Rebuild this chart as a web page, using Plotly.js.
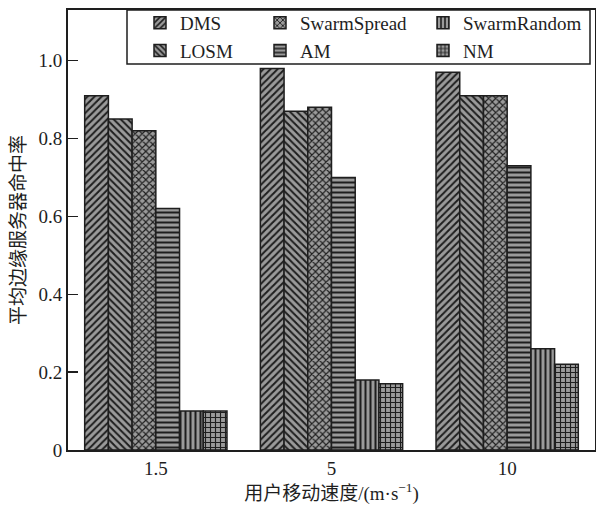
<!DOCTYPE html>
<html>
<head>
<meta charset="utf-8">
<script src="https://cdn.plot.ly/plotly-3.0.1.min.js"></script>
<style>html,body{margin:0;padding:0;background:#fff;}#chart{width:596px;height:505px;}</style>
</head>
<body>
<div id="chart"></div>
<script>
const categories = ['1.5', '5', '10'];
const seriesNames = ['DMS', 'LOSM', 'SwarmSpread', 'AM', 'SwarmRandom', 'NM'];
const DMS = [0.91, 0.98, 0.97];
const LOSM = [0.85, 0.87, 0.91];
const SwarmSpread = [0.82, 0.88, 0.91];
const AM = [0.62, 0.70, 0.73];
const SwarmRandom = [0.10, 0.18, 0.26];
const NM = [0.10, 0.17, 0.22];
const yTickVals = [0, 0.2, 0.4, 0.6, 0.8, 1.0];
const yTickText = ['0', '0.2', '0.4', '0.6', '0.8', '1.0'];
const xTitle = '用户移动速度/(m·s<sup>−1</sup>)';
const yTitle = '平均边缘服务器命中率';

const seriesValues = [DMS, LOSM, SwarmSpread, AM, SwarmRandom, NM];
const shapes = ['/', '\\', 'x', '-', '|', '+'];
const legendIds = ['legend', 'legend', 'legend2', 'legend2', 'legend3', 'legend3'];
const serif = 'Liberation Serif, serif';
const cjk = 'Liberation Serif, Noto Sans CJK SC, serif';
const dark = '#1e1e1e';
const fill = '#9a9a9a';

const traces = seriesNames.map((name, i) => ({
  type: 'bar',
  name: name,
  x: categories,
  y: seriesValues[i],
  legend: legendIds[i],
  marker: {
    color: fill,
    line: {color: dark, width: 1.5},
    pattern: {shape: shapes[i], fgcolor: dark, bgcolor: fill, fillmode: 'replace', size: 5, solidity: 0.4}
  },
  hoverinfo: 'skip'
}));

const legendBase = {
  orientation: 'v',
  yanchor: 'top',
  y: (450 - 4) / 440,
  xanchor: 'left',
  bgcolor: 'rgba(0,0,0,0)',
  borderwidth: 0,
  font: {family: serif, size: 19, color: dark},
  tracegroupgap: 0,
  itemwidth: 30
};

const layout = {
  width: 596,
  height: 505,
  margin: {l: 68, r: 1, t: 10, b: 55},
  paper_bgcolor: '#fff',
  plot_bgcolor: '#fff',
  font: {family: serif},
  barmode: 'group',
  bargap: 0.19,
  bargroupgap: 0,
  showlegend: true,
  legend: Object.assign({}, legendBase, {x: (140 - 68) / 527}),
  legend2: Object.assign({}, legendBase, {x: (260 - 68) / 527}),
  legend3: Object.assign({}, legendBase, {x: (423 - 68) / 527}),
  xaxis: {
    type: 'category',
    range: [-0.5, 2.5],
    showline: true,
    mirror: true,
    linecolor: dark,
    linewidth: 2,
    ticks: '',
    showgrid: false,
    zeroline: false,
    tickfont: {family: serif, size: 19, color: dark},
    title: {text: xTitle, font: {family: cjk, size: 19, color: dark}, standoff: 12}
  },
  yaxis: {
    range: [0, 1.13],
    tickvals: yTickVals,
    ticktext: yTickText,
    ticks: 'inside',
    ticklen: 10,
    tickwidth: 1.5,
    tickcolor: dark,
    showline: true,
    mirror: true,
    linecolor: dark,
    linewidth: 2,
    showgrid: false,
    zeroline: false,
    tickfont: {family: serif, size: 19, color: dark},
    title: {text: yTitle, font: {family: cjk, size: 19, color: dark}, standoff: 8}
  },
  shapes: [{
    type: 'rect', xref: 'paper', yref: 'paper',
    x0: (127 - 68) / 527, x1: (590 - 68) / 527,
    y0: (450 - 64) / 440, y1: 1,
    line: {color: dark, width: 1.5},
    fillcolor: '#fff',
    layer: 'below'
  }]
};

Plotly.newPlot('chart', traces, layout, {displayModeBar: false, staticPlot: true});
</script>
</body>
</html>
